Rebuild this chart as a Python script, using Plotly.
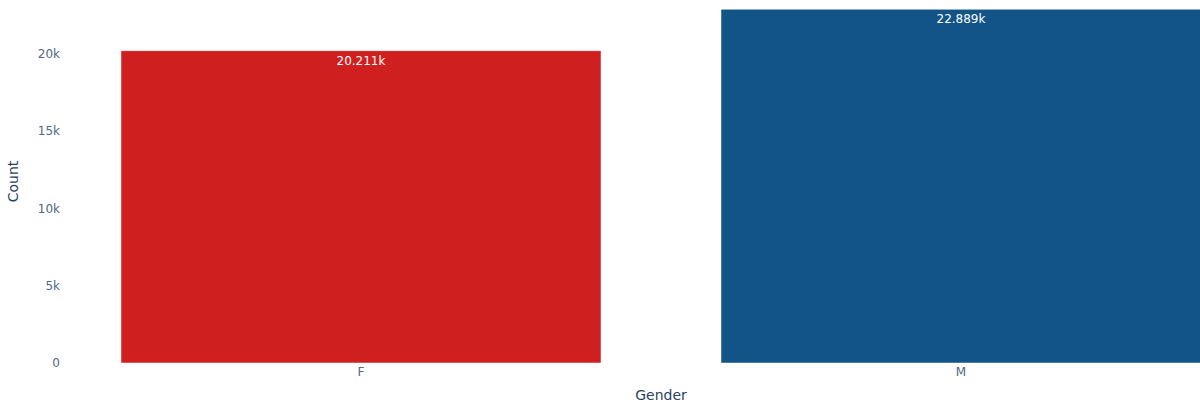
import plotly.graph_objects as go

# Record counts by gender
genders = ["F", "M"]
counts = [20211, 22889]
bar_colors = ["#CF1F1F", "#125487"]

fig = go.Figure(
    go.Bar(
        x=genders,
        y=counts,
        marker=dict(color=bar_colors, line=dict(color="white", width=0.5)),
        texttemplate="%{y:.5s}",
        textposition="inside",
        insidetextanchor="end",
        textfont=dict(color="white", size=12),
    )
)

tick_font = dict(family="Verdana, DejaVu Sans, sans-serif", size=12, color="#506784")

fig.update_layout(
    template="plotly",
    width=1341,
    height=403,
    margin=dict(l=61, r=80, t=0, b=40),
    plot_bgcolor="white",
    paper_bgcolor="white",
    bargap=0.2,
    font=dict(family="Verdana, DejaVu Sans, sans-serif", size=12, color="#2a3f5f"),
    xaxis=dict(title=dict(text="Gender"), showgrid=False, zeroline=False, tickfont=tick_font),
    yaxis=dict(
        title=dict(text="Count"),
        showgrid=False,
        zeroline=False,
        range=[0, 23490],
        tickvals=[0, 5000, 10000, 15000, 20000],
        ticktext=["0", "5k", "10k", "15k", "20k"],
        tickfont=tick_font,
    ),
    showlegend=False,
)

fig.write_html("out.html")
